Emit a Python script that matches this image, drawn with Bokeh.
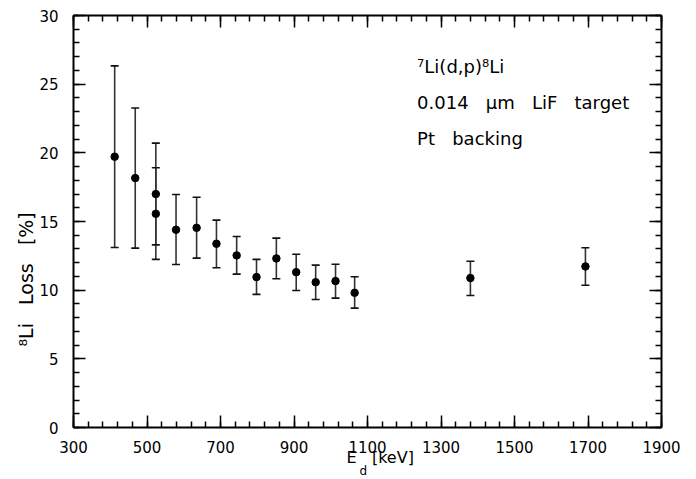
from bokeh.plotting import figure
from bokeh.models import (Range1d, LinearAxis, SingleIntervalTicker, FixedTicker, Whisker, TeeHead,
                          ColumnDataSource, Title, CustomJSTickFormatter)
from bokeh.core.properties import value
from bokeh.embed import file_html
from bokeh.resources import INLINE

# ---- data ----
energy_kev = [412, 468, 524, 524, 579, 635, 689, 744, 798, 852, 906, 959, 1013, 1065, 1380, 1693]
li_loss = [19.72, 18.16, 17.0, 15.56, 14.40, 14.54, 13.38, 12.53, 10.95, 12.31, 11.31, 10.58, 10.66, 9.81, 10.88, 11.73]
loss_low = [13.11, 13.06, 13.3, 12.24, 11.87, 12.33, 11.63, 11.17, 9.69, 10.83, 9.98, 9.32, 9.42, 8.69, 9.61, 10.36]
loss_high = [26.33, 23.26, 20.71, 18.91, 16.97, 16.77, 15.10, 13.91, 12.24, 13.79, 12.62, 11.82, 11.89, 10.98, 12.11, 13.09]

x_major_ticks = [300, 500, 700, 900, 1100, 1300, 1500, 1700, 1900]
x_minor_ticks = list(range(300, 1901, 40))

NB = "\u00a0"
annot_lines = ["\u2077Li(d,p)\u2078Li",
               "0.014" + NB * 3 + "\u03bcm" + NB * 3 + "LiF" + NB * 3 + "target",
               "Pt" + NB * 3 + "backing"]
annot_x = [1235, 1235, 1235]
annot_y = [26.3, 23.64, 21.07]

x_label_main = NB * 5 + "E" + NB * 3 + "[keV]"
x_label_sub = "d"
y_label = "\u2078Li" + NB * 3 + "Loss" + NB * 3 + "[%]"

FONT = "DejaVu Sans"

p = figure(width=696, height=479, output_backend="svg", toolbar_location=None,
           x_range=Range1d(300, 1900), y_range=Range1d(0, 30),
           x_axis_location=None, y_axis_location=None,
           min_border_left=73, min_border_right=35, min_border_top=15, min_border_bottom=52)
p.xgrid.visible = False
p.ygrid.visible = False
p.outline_line_color = None
p.background_fill_color = "white"
p.border_fill_color = "white"


def style_axis(ax, show_labels):
    ax.axis_line_color = "black"
    ax.axis_line_width = 2
    ax.major_tick_in = 12
    ax.major_tick_out = 0
    ax.minor_tick_in = 6
    ax.minor_tick_out = 0
    ax.major_tick_line_color = "black"
    ax.minor_tick_line_color = "black"
    ax.major_tick_line_width = 1.5
    ax.minor_tick_line_width = 1.5
    ax.major_label_text_font = FONT
    ax.major_label_text_font_size = "15px"
    ax.major_label_text_color = "black"
    if not show_labels:
        ax.formatter = CustomJSTickFormatter(code="return ''")
        ax.major_label_standoff = 0
        ax.major_label_text_font_size = "0px"


for loc, show in (("below", True), ("above", False)):
    ax = LinearAxis(ticker=FixedTicker(ticks=x_major_ticks, minor_ticks=x_minor_ticks))
    style_axis(ax, show)
    if show:
        ax.major_label_standoff = 13
        ax.axis_label = x_label_main
        ax.axis_label_text_font = FONT
        ax.axis_label_text_font_size = "16px"
        ax.axis_label_text_font_style = "normal"
        ax.axis_label_text_color = "black"
        ax.axis_label_standoff = -8
    p.add_layout(ax, loc)

for loc, show in (("left", True), ("right", False)):
    ax = LinearAxis(ticker=SingleIntervalTicker(interval=5, num_minor_ticks=5))
    style_axis(ax, show)
    if show:
        ax.major_label_standoff = 15
    p.add_layout(ax, loc)

# subscript of the x title and the y title
p.add_layout(Title(text=x_label_sub, align="left", offset=286, standoff=-16,
                   text_font=FONT, text_font_size="12px", text_font_style="normal",
                   text_color="black"), "below")
p.add_layout(Title(text=y_label, align="left", offset=81, standoff=0,
                   text_font=FONT, text_font_size="19px", text_font_style="normal",
                   text_color="black"), "left")

src = ColumnDataSource(dict(x=energy_kev, y=li_loss, lo=loss_low, hi=loss_high))
wh = Whisker(base="x", upper="hi", lower="lo", source=src,
             line_color="#333333", line_width=1.6,
             upper_head=TeeHead(size=8, line_color="#111111", line_width=1.6),
             lower_head=TeeHead(size=8, line_color="#111111", line_width=1.6))
p.add_layout(wh)
p.scatter("x", "y", source=src, size=7.5, color="black")

p.text(x=annot_x, y=annot_y, text=annot_lines, text_font=value(FONT),
       text_font_size="18px", text_baseline="middle", text_align="left", text_color="black")

open("out.html", "w").write(file_html(p, INLINE))
